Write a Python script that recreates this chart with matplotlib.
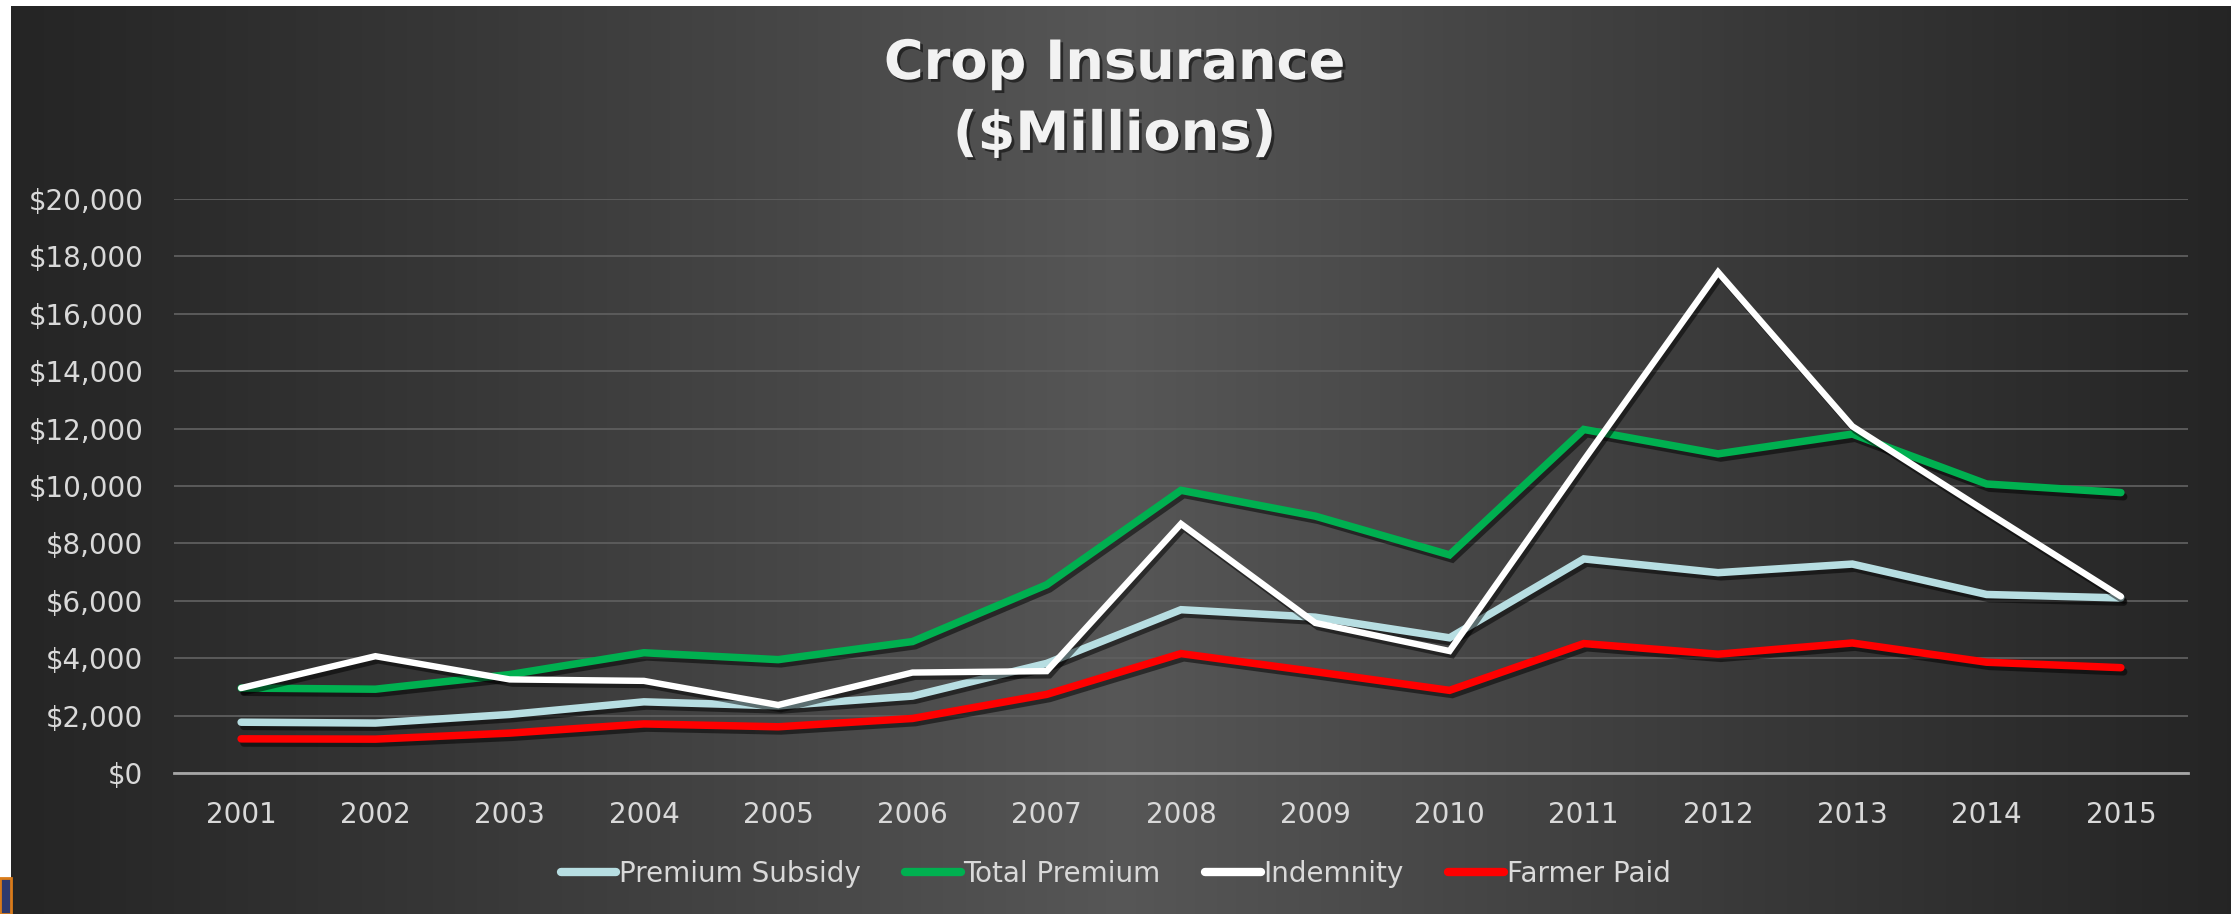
import numpy as np
import matplotlib
matplotlib.use("Agg")
import matplotlib.pyplot as plt
import matplotlib.patheffects as pe
from matplotlib.patches import Rectangle

# data ($ millions)
years = ["2001", "2002", "2003", "2004", "2005", "2006", "2007", "2008",
         "2009", "2010", "2011", "2012", "2013", "2014", "2015"]
premium_subsidy = [1770, 1740, 2040, 2480, 2340, 2680, 3820, 5690,
                   5430, 4710, 7460, 6980, 7280, 6220, 6100]
total_premium = [2960, 2920, 3430, 4190, 3950, 4580, 6560, 9850,
                 8950, 7600, 11970, 11120, 11810, 10070, 9770]
indemnity = [2960, 4070, 3260, 3210, 2370, 3500, 3550, 8680,
             5230, 4250, 10900, 17450, 12080, 9100, 6150]
farmer_paid = [1190, 1180, 1390, 1710, 1610, 1900, 2740, 4160,
               3530, 2880, 4510, 4140, 4530, 3860, 3670]

series = [
    ("Premium Subsidy", premium_subsidy, "#B7DEE2"),
    ("Total Premium", total_premium, "#00B050"),
    ("Indemnity", indemnity, "#FFFFFF"),
    ("Farmer Paid", farmer_paid, "#FF0000"),
]

W, H = 2231, 914
fig = plt.figure(figsize=(W / 100, H / 100), dpi=100)
fig.patch.set_facecolor("white")

# background: horizontal gradient, dark at the edges, lighter in the middle
bg = fig.add_axes([11 / W, 0, 1 - 11 / W, 1 - 6 / H])
t = np.linspace(0, 1, 600)
shade = 0.145 + 0.195 * (1 - np.abs(t - 0.5) * 2) ** 1.1
img = np.dstack([shade, shade, shade])
bg.imshow(img, aspect="auto", extent=[0, 1, 0, 1])
bg.set_axis_off()

# little orange/navy corner bit bottom-left
fig.patches.append(Rectangle((0, 0), 11 / W, 36 / H, transform=fig.transFigure,
                             facecolor="#2E3A6E", edgecolor="#D97B1A", lw=2))

ax = fig.add_axes([174 / W, 141 / H, (2188 - 174) / W, (773 - 199) / H])
ax.set_facecolor("none")

x = np.arange(len(years))
for name, vals, col in series:
    lw = 4.6 if name == "Indemnity" else 5.4
    ax.plot(x, vals, color=col, lw=lw, label=name, solid_capstyle="round",
            solid_joinstyle="miter",
            path_effects=[pe.SimpleLineShadow(offset=(2, -3), shadow_color="black", alpha=0.5),
                          pe.Normal()])

ax.set_xlim(-0.5, len(years) - 0.5)
ax.set_ylim(0, 20000)
ax.set_yticks(np.arange(0, 20001, 2000))
ax.set_yticklabels(["${:,.0f}".format(v) for v in np.arange(0, 20001, 2000)])
ax.set_xticks(x)
ax.set_xticklabels(years)

ax.grid(axis="y", color="#5E5E5E", lw=1.3)
ax.set_axisbelow(True)
for s in ["top", "right", "left"]:
    ax.spines[s].set_visible(False)
ax.spines["bottom"].set_color("#A6A6A6")
ax.spines["bottom"].set_linewidth(2)
ax.tick_params(axis="both", length=0, colors="#D9D9D9", labelsize=20)
ax.tick_params(axis="x", pad=20)
ax.tick_params(axis="y", pad=22)

title_fx = [pe.withSimplePatchShadow(offset=(2, -2), shadow_rgbFace="black", alpha=0.5)]
fig.text(0.4995, 1 - 64 / H, "Crop Insurance", ha="center", va="center",
         fontsize=39, fontweight="bold", color="#F2F2F2", path_effects=title_fx)
fig.text(0.4995, 1 - 135 / H, "($Millions)", ha="center", va="center",
         fontsize=39, fontweight="bold", color="#F2F2F2", path_effects=title_fx)

leg = fig.legend(loc="center", bbox_to_anchor=(0.5, 1 - 874 / H), ncol=4,
                 frameon=False, fontsize=20, handlelength=2.0, handletextpad=0.1,
                 columnspacing=1.6, labelcolor="#D9D9D9")
for h in leg.legend_handles:
    h.set_linewidth(6)
    h.set_path_effects([])

fig.savefig("out.png", dpi=100, facecolor=fig.get_facecolor())
